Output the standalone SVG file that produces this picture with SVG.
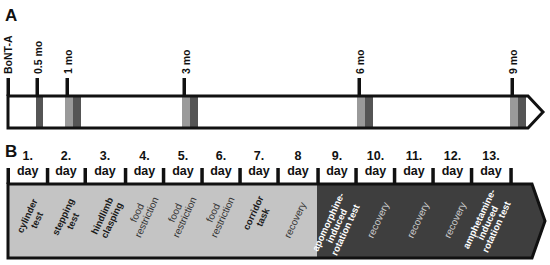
<svg xmlns="http://www.w3.org/2000/svg" width="550" height="265" viewBox="0 0 550 265">
<style>
text{font-family:"Liberation Sans",Arial,sans-serif}
.panel{font-size:17px;font-weight:bold;fill:#111}
.tl{font-size:10.5px;font-weight:bold;fill:#111}
.tick{fill:#111}
.lt{fill:#9a9a9a}
.dk{fill:#555}
.outline{fill:none;stroke:#111;stroke-width:3;stroke-linejoin:miter}
.day{font-size:12.5px;font-weight:bold;fill:#111;text-anchor:middle}
.lb{font-size:9.5px;font-weight:bold;fill:#1a1a1a;text-anchor:middle}
.ln{font-size:10px;fill:#333;text-anchor:middle}
.wb{font-size:9.5px;font-weight:bold;fill:#fff;text-anchor:middle}
.wn{font-size:10px;fill:#cfcfcf;text-anchor:middle}
</style>

<!-- Panel A -->
<text class="panel" x="5" y="21">A</text>
<g id="timelineA">
<polygon points="8,96 528,96 543,112 528,128 8,128" fill="#fff"/>
<rect class="dk" x="36" y="97" width="7" height="30"/>
<rect class="lt" x="65" y="97" width="8" height="30"/><rect class="dk" x="73" y="97" width="8" height="30"/>
<rect class="lt" x="182" y="97" width="8" height="30"/><rect class="dk" x="190" y="97" width="8" height="30"/>
<rect class="lt" x="357" y="97" width="8" height="30"/><rect class="dk" x="365" y="97" width="8" height="30"/>
<rect class="lt" x="510" y="97" width="8" height="30"/><rect class="dk" x="518" y="97" width="8" height="30"/>
<polygon class="outline" points="8,96 528,96 543,112 528,128 8,128"/>
</g>
<g id="tp-bont">
<rect class="tick" x="6.5" y="78" width="3.5" height="18"/>
<text class="tl" transform="translate(11.5,74) rotate(-90)">BoNT-A</text>
</g>
<g id="tp-05">
<rect class="tick" x="35.5" y="78" width="3.5" height="18"/>
<text class="tl" transform="translate(41.5,74) rotate(-90)">0.5 mo</text>
</g>
<g id="tp-1">
<rect class="tick" x="65.5" y="78" width="3.5" height="18"/>
<text class="tl" transform="translate(71.5,74) rotate(-90)">1 mo</text>
</g>
<g id="tp-3">
<rect class="tick" x="182.5" y="78" width="3.5" height="18"/>
<text class="tl" transform="translate(189.5,74) rotate(-90)">3 mo</text>
</g>
<g id="tp-6">
<rect class="tick" x="357.5" y="78" width="3.5" height="18"/>
<text class="tl" transform="translate(363.5,74) rotate(-90)">6 mo</text>
</g>
<g id="tp-9">
<rect class="tick" x="510.5" y="78" width="3.5" height="18"/>
<text class="tl" transform="translate(516.5,74) rotate(-90)">9 mo</text>
</g>

<!-- Panel B -->
<text class="panel" x="5" y="157">B</text>
<g id="timelineB">
<polygon points="8,184 532,184 545,221 532,258 8,258" fill="#3e3e3e"/>
<rect x="8" y="184" width="309" height="74" fill="#c4c4c4"/>
<polygon class="outline" points="8,184 532,184 545,221 532,258 8,258"/>
</g>
<g id="dayticks" class="tick">
<rect x="6.5" y="168" width="3.5" height="16"/>
<rect x="45.8" y="168" width="3.5" height="16"/>
<rect x="83.5" y="168" width="3.5" height="16"/>
<rect x="123.8" y="168" width="3.5" height="16"/>
<rect x="161.8" y="168" width="3.5" height="16"/>
<rect x="200.3" y="168" width="3.5" height="16"/>
<rect x="238.3" y="168" width="3.5" height="16"/>
<rect x="276.3" y="168" width="3.5" height="16"/>
<rect x="316.3" y="168" width="3.5" height="16"/>
<rect x="354.3" y="168" width="3.5" height="16"/>
<rect x="392.8" y="168" width="3.5" height="16"/>
<rect x="431.3" y="168" width="3.5" height="16"/>
<rect x="469.8" y="168" width="3.5" height="16"/>
<rect x="509.3" y="168" width="3.5" height="16"/>
</g>

<g id="d1"><text class="day" x="27.7" y="160">1.</text><text class="day" x="27.7" y="175">day</text>
<text class="lb" transform="translate(32,218) rotate(-65)"><tspan x="0" y="-2">cylinder</tspan><tspan x="0" y="8.5">test</tspan></text></g>
<g id="d2"><text class="day" x="66" y="160">2.</text><text class="day" x="66" y="175">day</text>
<text class="lb" transform="translate(68,219) rotate(-65)"><tspan x="0" y="-2">stepping</tspan><tspan x="0" y="8.5">test</tspan></text></g>
<g id="d3"><text class="day" x="105" y="160">3.</text><text class="day" x="105" y="175">day</text>
<text class="lb" transform="translate(107,218) rotate(-65)"><tspan x="0" y="-2">hindlimb</tspan><tspan x="0" y="8.5">clasping</tspan></text></g>
<g id="d4"><text class="day" x="144.5" y="160">4.</text><text class="day" x="144.5" y="175">day</text>
<text class="ln" transform="translate(142,215) rotate(-65)"><tspan x="0" y="-2">food</tspan><tspan x="0" y="8.5">restriction</tspan></text></g>
<g id="d5"><text class="day" x="183" y="160">5.</text><text class="day" x="183" y="175">day</text>
<text class="ln" transform="translate(180,215) rotate(-65)"><tspan x="0" y="-2">food</tspan><tspan x="0" y="8.5">restriction</tspan></text></g>
<g id="d6"><text class="day" x="221" y="160">6.</text><text class="day" x="221" y="175">day</text>
<text class="ln" transform="translate(218,215) rotate(-65)"><tspan x="0" y="-2">food</tspan><tspan x="0" y="8.5">restriction</tspan></text></g>
<g id="d7"><text class="day" x="259" y="160">7.</text><text class="day" x="259" y="175">day</text>
<text class="lb" transform="translate(258,215) rotate(-65)"><tspan x="0" y="-2">corridor</tspan><tspan x="0" y="8.5">task</tspan></text></g>
<g id="d8"><text class="day" x="298" y="160">8</text><text class="day" x="298" y="175">day</text>
<text class="ln" transform="translate(295,220) rotate(-65)"><tspan x="0" y="3.5">recovery</tspan></text></g>
<g id="d9"><text class="day" x="337" y="160">9.</text><text class="day" x="337" y="175">day</text>
<text class="wb" transform="translate(337,226) rotate(-65)"><tspan x="0" y="-6.5">apomorphine-</tspan><tspan x="0" y="3">induced</tspan><tspan x="0" y="12.5">rotation test</tspan></text></g>
<g id="d10"><text class="day" x="375.5" y="160">10.</text><text class="day" x="375.5" y="175">day</text>
<text class="wn" transform="translate(378,220) rotate(-65)"><tspan x="0" y="3.5">recovery</tspan></text></g>
<g id="d11"><text class="day" x="414" y="160">11.</text><text class="day" x="414" y="175">day</text>
<text class="wn" transform="translate(418,220) rotate(-65)"><tspan x="0" y="3.5">recovery</tspan></text></g>
<g id="d12"><text class="day" x="452.5" y="160">12.</text><text class="day" x="452.5" y="175">day</text>
<text class="wn" transform="translate(455,220) rotate(-65)"><tspan x="0" y="3.5">recovery</tspan></text></g>
<g id="d13"><text class="day" x="491" y="160">13.</text><text class="day" x="491" y="175">day</text>
<text class="wb" transform="translate(488,223) rotate(-65)"><tspan x="0" y="-6.5">amphetamine-</tspan><tspan x="0" y="3">induced</tspan><tspan x="0" y="12.5">rotation test</tspan></text></g>
</svg>
